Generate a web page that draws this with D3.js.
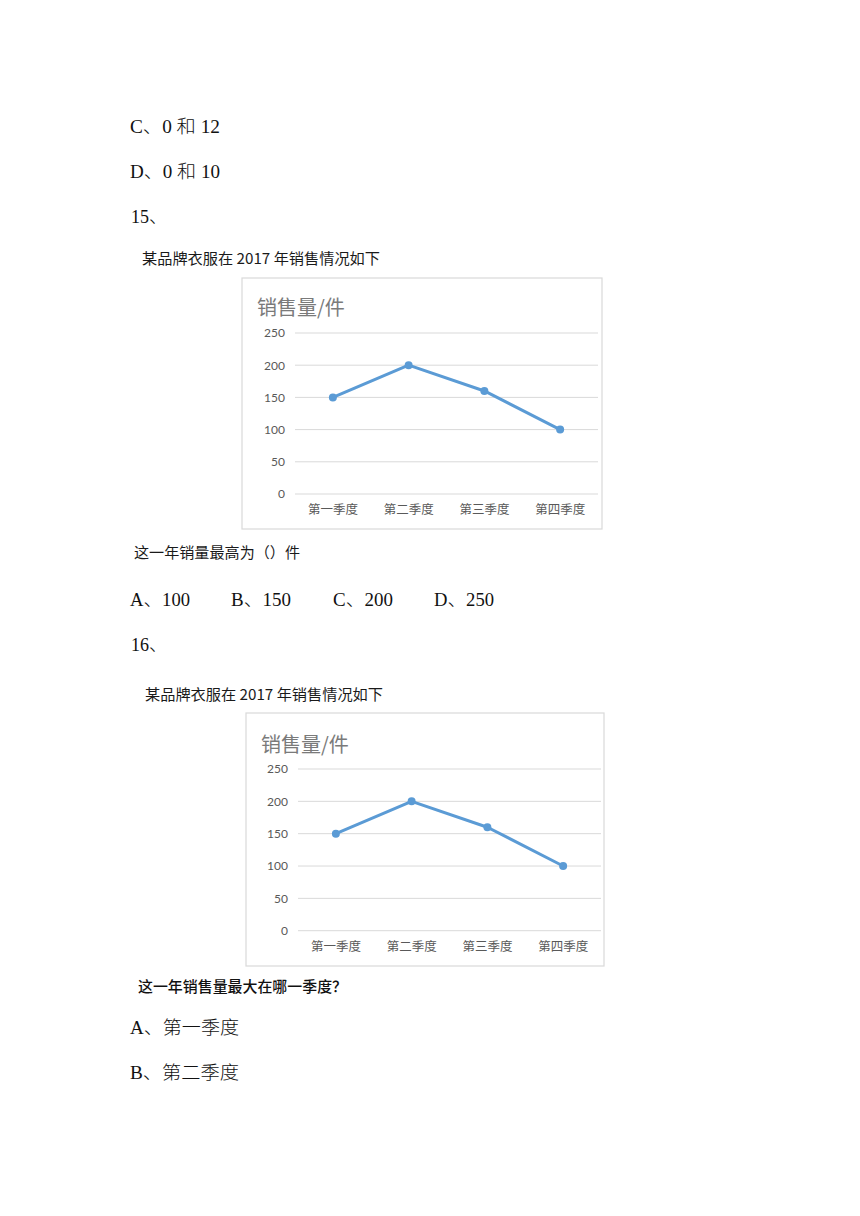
<!DOCTYPE html>
<html><head><meta charset="utf-8">
<script src="https://cdn.jsdelivr.net/npm/d3@7"></script>
<style>html,body{margin:0;padding:0;background:#fff;}</style>
</head><body>
<script>
const categories = ["第一季度", "第二季度", "第三季度", "第四季度"];
const salesValues = [150, 200, 160, 100];
const yTicks = [0, 50, 100, 150, 200, 250];
const chartTitle = "销售量/件";
const chartCaption = "某品牌衣服在 2017 年销售情况如下";
const docLines = ["C、0 和 12", "D、0 和 10", "15、", "16、"];
const q15Question = "这一年销量最高为（）件";
const q15Options = ["A、100", "B、150", "C、200", "D、250"];
const q16Question = "这一年销售量最大在哪一季度？";
const q16Options = ["A、第一季度", "B、第二季度"];

const W = 860, H = 1216;
const svg = d3.select("body").append("svg").attr("width", W).attr("height", H)
  .style("display", "block");
svg.append("rect").attr("width", W).attr("height", H).attr("fill", "#fff");

const serif = "'Liberation Serif', 'Noto Sans CJK SC', serif";
const sans = "'Noto Sans CJK SC', sans-serif";

function docText(t, x, y, len, opts = {}) {
  const el = svg.append("text").attr("x", x).attr("y", y)
    .attr("dominant-baseline", "central")
    .attr("font-family", opts.family || serif)
    .attr("font-size", opts.size || 18)
    .attr("font-weight", opts.weight || 300)
    .attr("fill", opts.fill || "#111")
    .text(t);
  if (len) el.attr("textLength", len).attr("lengthAdjust", "spacingAndGlyphs");
  return el;
}

docText(docLines[0], 130, 127, 90);
docText(docLines[1], 130, 172, 90);
docText(docLines[2], 131, 217, null);

function drawChart(cfg) {
  docText(chartCaption, cfg.capX, cfg.capY, 238, {family: sans, size: 15, fill: "#1a1a1a", weight: 400});
  const g = svg.append("g");
  g.append("rect").attr("x", cfg.fx).attr("y", cfg.fy)
    .attr("width", cfg.fw).attr("height", cfg.fh)
    .attr("fill", "#fff").attr("stroke", "#d9d9d9").attr("stroke-width", 1.2);
  g.append("text").attr("x", cfg.fx + 15).attr("y", cfg.titleY)
    .attr("dominant-baseline", "central")
    .attr("font-family", sans).attr("font-size", 20).attr("fill", "#7a7a7a")
    .text(chartTitle);

  const x = d3.scaleBand().domain(categories).range([cfg.x0, cfg.x1]);
  const y = d3.scaleLinear().domain([0, 250]).range([cfg.y0, cfg.y1]);

  g.selectAll(".grid").data(yTicks).join("line")
    .attr("x1", cfg.x0).attr("x2", cfg.x1)
    .attr("y1", d => y(d)).attr("y2", d => y(d))
    .attr("stroke", "#d9d9d9").attr("stroke-width", 1);

  const yAxis = d3.axisLeft(y).tickValues(yTicks).tickSize(0).tickPadding(10);
  const ya = g.append("g").attr("transform", `translate(${cfg.x0},0)`).call(yAxis);
  ya.select(".domain").remove();
  ya.selectAll("text").attr("font-family", "Lato, 'Liberation Sans', sans-serif")
    .attr("font-size", 12).attr("fill", "#595959");

  const xAxis = d3.axisBottom(x).tickSize(0).tickPadding(11);
  const xa = g.append("g").attr("transform", `translate(0,${cfg.y0})`).call(xAxis);
  xa.select(".domain").remove();
  xa.selectAll("text").attr("font-family", sans).attr("font-size", 12.5).attr("fill", "#595959");

  const cx = d => x(d) + x.bandwidth() / 2;
  const line = d3.line().x((d, i) => cx(categories[i])).y(d => y(d));
  g.append("path").datum(salesValues).attr("d", line)
    .attr("fill", "none").attr("stroke", "#5b9bd5").attr("stroke-width", 3)
    .attr("stroke-linejoin", "round");
  g.selectAll(".pt").data(salesValues).join("circle")
    .attr("cx", (d, i) => cx(categories[i])).attr("cy", d => y(d))
    .attr("r", 4).attr("fill", "#5b9bd5");
}

drawChart({capX: 142, capY: 257, fx: 242, fy: 278, fw: 360, fh: 251,
  titleY: 306, x0: 295, x1: 598, y0: 494, y1: 333});

docText(q15Question, 134, 551, 166, {family: sans, size: 15, fill: "#1a1a1a", weight: 400});
const optX = [130, 231, 333, 434];
q15Options.forEach((t, i) => docText(t, optX[i], 600, 60));
docText(docLines[3], 131, 645, null);

drawChart({capX: 145, capY: 693, fx: 246, fy: 713, fw: 358, fh: 253,
  titleY: 743, x0: 298, x1: 601, y0: 930.7, y1: 769});

docText(q16Question, 138, 985, 209, {family: sans, size: 15, fill: "#111", weight: 500});
docText(q16Options[0], 130, 1028, 109);
docText(q16Options[1], 130, 1073, 109);
</script>
</body></html>
